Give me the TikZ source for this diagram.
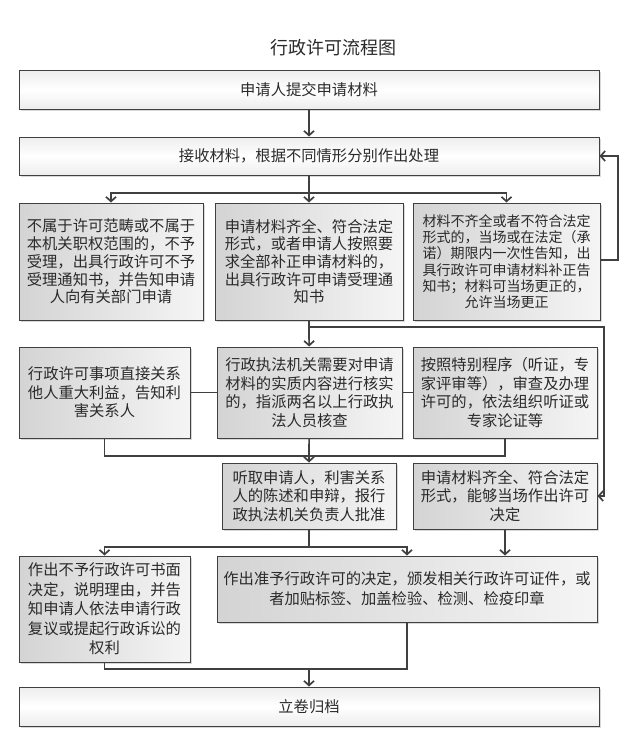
\documentclass[tikz,border=0pt]{standalone}
\usepackage{fontspec}
\newfontfamily\cjk{Noto Sans CJK SC}
\usepackage{xcolor}
\usetikzlibrary{arrows.meta,shadows}
\definecolor{lnc}{HTML}{404040}
\definecolor{txc}{HTML}{2a2a2a}

\begin{document}
\begin{tikzpicture}[x=1pt,y=-1pt,
  >={Straight Barb[length=4.5pt,width=10pt]},
  conn/.style={draw=lnc,line width=1.7pt},
  wide/.style={draw=lnc,line width=1pt,minimum width=580pt,minimum height=39pt,
    top color=black!7,bottom color=black!7,middle color=white,text=txc,
    drop shadow={shadow xshift=1.5pt,shadow yshift=-1.5pt,opacity=.3},
    font=\cjk\fontsize{15.3}{18}\selectfont},
  pbox/.style={draw=lnc,line width=1pt,inner xsep=4pt,inner ysep=2pt,align=center,
    left color=black!17,right color=black!4,text=txc,
    drop shadow={shadow xshift=1.5pt,shadow yshift=-1.5pt,opacity=.3},
    font=\cjk\fontsize{15.3}{18.5}\selectfont}]
\useasboundingbox[fill=white] (0,0) rectangle (633,755);

\node[font=\cjk\fontsize{18}{20}\selectfont,text=txc] (title) at (333,48) {行政许可流程图};

\node[wide] (A) at (309,90) {申请人提交申请材料};
\node[wide,minimum height=38pt] (B) at (309,156) {接收材料，根据不同情形分别作出处理};

\node[pbox,text width=176pt,minimum height=117pt,font=\cjk\fontsize{15.3}{17.7}\selectfont] (r2l) at (111,261.5)
  {不属于许可范畴或不属于\\本机关职权范围的，不予\\受理，出具行政许可不予\\受理通知书，并告知申请\\人向有关部门申请};
\node[pbox,text width=180pt,minimum height=117pt,font=\cjk\fontsize{15.3}{17.7}\selectfont] (r2m) at (309,261.5)
  {申请材料齐全、符合法定\\形式，或者申请人按照要\\求全部补正申请材料的，\\出具行政许可申请受理通\\知书};
\node[pbox,text width=179pt,minimum height=117pt,font=\cjk\fontsize{14}{16.3}\selectfont] (r2r) at (506.5,261.5)
  {材料不齐全或者不符合法定\\形式的，当场或在法定（承\\诺）期限内一次性告知，出\\具行政许可申请材料补正告\\知书；材料可当场更正的，\\允许当场更正};

\node[pbox,text width=163pt,minimum height=91pt] (r3l) at (104.5,392.5)
  {行政许可事项直接关系\\他人重大利益，告知利\\害关系人};
\node[pbox,text width=177pt,minimum height=91pt] (r3m) at (309.5,392.5)
  {行政执法机关需要对申请\\材料的实质内容进行核实\\的，指派两名以上行政执\\法人员核查};
\node[pbox,text width=176pt,minimum height=91pt] (r3r) at (505,392.5)
  {按照特别程序（听证，专\\家评审等），审查及办理\\许可的，依法组织听证或\\专家论证等};

\node[pbox,text width=166pt,minimum height=66pt] (r4m) at (309,496)
  {听取申请人，利害关系\\人的陈述和申辩，报行\\政执法机关负责人批准};
\node[pbox,text width=176pt,minimum height=66pt] (r4r) at (505,496)
  {申请材料齐全、符合法定\\形式，能够当场作出许可\\决定};

\node[pbox,text width=163pt,minimum height=106pt,font=\cjk\fontsize{15.3}{19.4}\selectfont] (r5l) at (104.5,609)
  {作出不予行政许可书面\\决定，说明理由，并告\\知申请人依法申请行政\\复议或提起行政诉讼的\\权利};
\node[pbox,text width=372pt,minimum height=66pt,font=\cjk\fontsize{15.3}{20}\selectfont] (r5r) at (407,589)
  {作出准予行政许可的决定，颁发相关行政许可证件，或\\者加贴标签、加盖检验、检测、检疫印章};

\node[wide] (F) at (309,706.5) {立卷归档};

\coordinate (j1) at (309,193);
\coordinate (j2) at (309,327);
\coordinate (j3) at (309,456);
\coordinate (j4) at (309,547);
\coordinate (j5) at (309,669);

\draw[conn,->] (A) -- (B);
\draw[conn] (B) -- (j1);
\draw[conn,->] (j1) -| (r2l);
\draw[conn,->] (j1) -- (r2m);
\draw[conn,->] (j1) -| (r2r);
\draw[conn,->] (r2r.east |- 0,260) -- (618,260) |- (B.east);

\draw[conn] (r2m) -- (j2);
\draw[conn,->] (j2) -- (r3m);
\draw[conn,->] (j2) -- (604,327) |- (r4r.east);

\draw[conn] (r3l) -- (r3m);
\draw[conn] (r3m) -- (r3r);
\draw[conn] (r3l) |- (j3);
\draw[conn] (r3r) |- (j3);
\draw[conn] (r3m) -- (j3);
\draw[conn,->] (j3) -- (r4m);

\draw[conn] (r4m) -- (j4);
\draw[conn,->] (j4) -| (r5l);
\draw[conn,->] (j4) -| (r5r);
\draw[conn,->] (r4r) -- (r4r |- r5r.north);

\draw[conn] (r5l) |- (j5);
\draw[conn] (r5r) |- (j5);
\draw[conn,->] (j5) -- (F);

\end{tikzpicture}
\end{document}
